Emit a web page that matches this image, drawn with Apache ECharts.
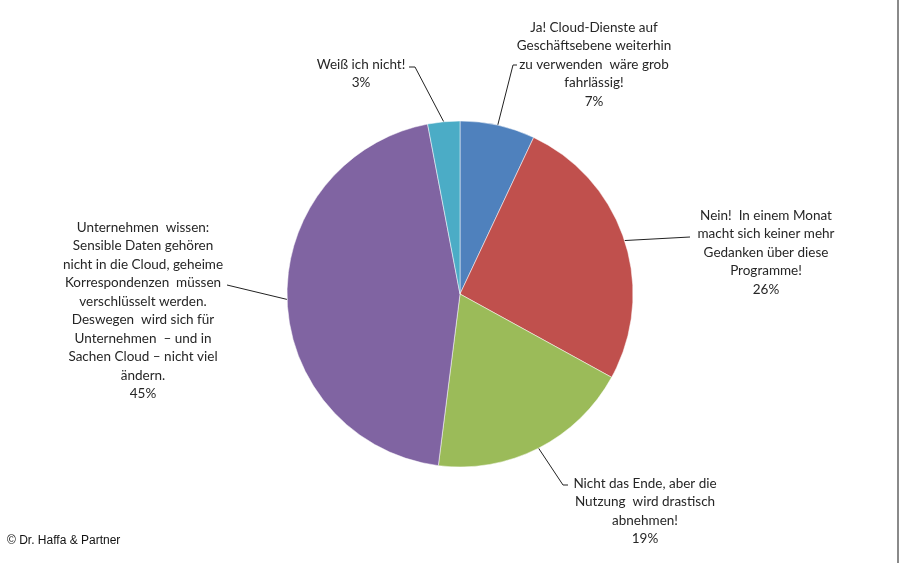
<!DOCTYPE html>
<html lang="de">
<head>
<meta charset="UTF-8">
<script src="https://cdn.jsdelivr.net/npm/echarts@6/dist/echarts.min.js"></script>
<style>
  html, body { margin: 0; padding: 0; background: #fff; }
  #chart { width: 900px; height: 563px; }
</style>
</head>
<body>
<div id="chart"></div>
<script>
// Antworten (Kategorien) und Anteile in Prozent
var categories = [
    'Ja! Cloud-Dienste auf\nGeschäftsebene weiterhin\nzu verwenden  wäre grob\nfahrlässig!',
    'Nein!  In einem Monat\nmacht sich keiner mehr\nGedanken über diese\nProgramme!',
    'Nicht das Ende, aber die\nNutzung  wird drastisch\nabnehmen!',
    'Unternehmen  wissen:\nSensible Daten gehören\nnicht in die Cloud, geheime\nKorrespondenzen  müssen\nverschlüsselt werden.\nDeswegen  wird sich für\nUnternehmen  – und in\nSachen Cloud – nicht viel\nändern.',
    'Weiß ich nicht!'
];
var shares = [7, 26, 19, 45, 3];
var colors = ['#4F81BD', '#C0504D', '#9BBB59', '#8064A2', '#4BACC6'];

// Position der Beschriftungen (Mitte x, oben y) und Knickpunkte der Führungslinien
var labelPos = [[594, 18], [766, 206], [645, 474], [143, 218], [361, 55]];
var lineEnds = [
    [[513, 65], [517, 65]],
    [[690, 237], [690, 237]],
    [[563, 485], [568, 485]],
    [[227, 285], [227, 285]],
    [[415, 67], [409, 67]]
];

var chart = echarts.init(document.getElementById('chart'));

var pieData = categories.map(function (name, i) {
    return { name: name, value: shares[i], itemStyle: { color: colors[i] } };
});

chart.setOption({
    animation: false,
    backgroundColor: '#fff',
    series: [{
        type: 'pie',
        center: [460, 294],
        radius: 173,
        startAngle: 90,
        clockwise: true,
        avoidLabelOverlap: false,
        data: pieData,
        itemStyle: { borderColor: '#fff', borderWidth: 0.5 },
        label: {
            show: true,
            position: 'outside',
            fontFamily: 'Lato',
            fontSize: 13.5,
            lineHeight: 18.5,
            color: '#262626',
            align: 'center',
            formatter: function (p) { return p.name + '\n' + p.value + '%'; }
        },
        labelLine: {
            show: true,
            length: 10,
            length2: 10,
            lineStyle: { color: '#222', width: 1 }
        },
        labelLayout: function (params) {
            var i = params.dataIndex;
            var start = params.labelLinePoints ? params.labelLinePoints[0] : lineEnds[i][0];
            return {
                x: labelPos[i][0],
                y: labelPos[i][1],
                align: 'center',
                verticalAlign: 'top',
                labelLinePoints: [start, lineEnds[i][0], lineEnds[i][1]]
            };
        }
    }],
    graphic: [
        {
            type: 'text',
            left: 7,
            top: 535,
            style: {
                text: '© Dr. Haffa & Partner',
                fontFamily: 'Liberation Sans',
                fontSize: 12,
                fill: '#111'
            }
        },
        {
            type: 'rect',
            shape: { x: 897, y: 0, width: 2, height: 563 },
            style: { fill: '#8a8a8a' }
        }
    ]
});
</script>
</body>
</html>
